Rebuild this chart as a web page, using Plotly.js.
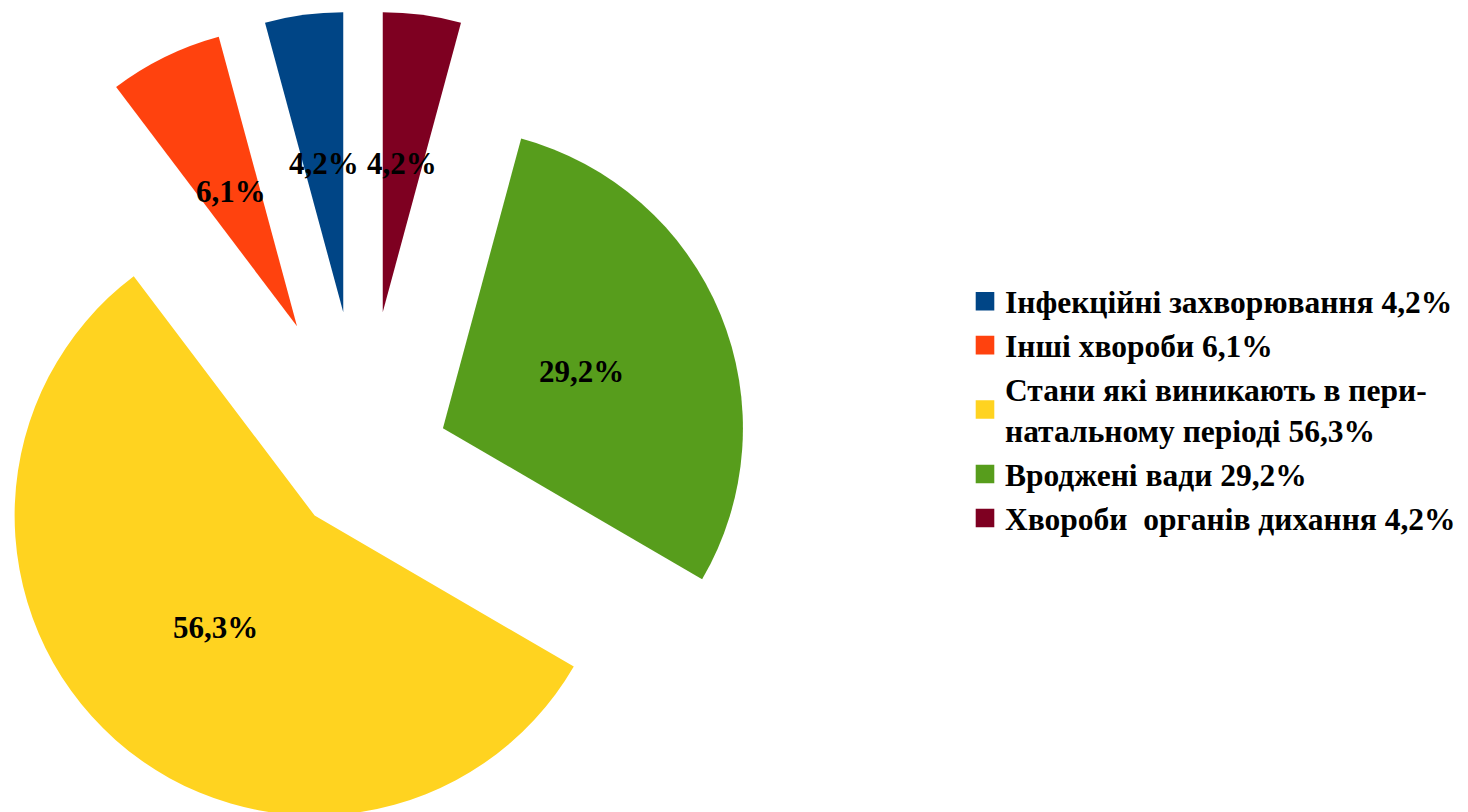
<!DOCTYPE html>
<html><head><meta charset="utf-8">
<script src="https://cdn.plot.ly/plotly-3.0.1.min.js"></script>
<style>
html,body{margin:0;padding:0;overflow:hidden;background:#fff;width:1468px;height:812px;position:relative;}
#chart{position:absolute;left:-87.5px;top:10.5px;width:1556px;height:900px;}
.legendpie{transform:translate(20px,0px) scale(1.55);}
</style></head><body><div id="chart"></div>
<script>
const categories = ["Інфекційні захворювання", "Інші хвороби", "Стани які виникають в пери-<br>натальному періоді", "Вроджені вади", "Хвороби\u00a0 органів дихання"];
const values = [4.2, 6.1, 56.3, 29.2, 4.2];
const colors = ["#004586", "#ff420e", "#ffd320", "#579d1c", "#7e0021"];
const pulls = [0.5, 0.5, 0.243, 0.288, 0.5];

const W = 1556, H = 900;
const domX = [0, 900 / W], domY = [0, 1];
const FONT = '"Liberation Serif", "Times New Roman", serif';
const fmt = v => v.toFixed(1).replace('.', ',') + '%';
const legendLabels = categories.map((c, i) => '<b>' + c.replace('<br>', '</b><br><b>') + ' ' + fmt(values[i]) + '</b>');

// label positions computed from the data (counterclockwise from 12 o'clock)
const total = values.reduce((a, b) => a + b, 0);
const maxPull = Math.max(...pulls);
const boxW = W * (domX[1] - domX[0]), boxH = H * (domY[1] - domY[0]);
const r = Math.min(boxW, boxH) / 2 / (1 + maxPull);
const cx = W * (domX[0] + domX[1]) / 2;
const cy = H * (1 - domY[0]) - boxH / 2;
let cum = 0;
const annotations = values.map((v, i) => {
  const mid = -2 * Math.PI * (cum + v / 2) / total;
  cum += v;
  const d = (pulls[i] + 0.5) * r;
  const px = cx + d * Math.sin(mid);
  const py = cy - d * Math.cos(mid);
  return {
    x: px / W, y: 1 - py / H, xref: 'paper', yref: 'paper',
    text: '<b>' + fmt(v) + '</b>', showarrow: false, xanchor: 'center', yanchor: 'middle',
    font: {family: FONT, size: 31, weight: 'bold', color: '#000'}
  };
});

const trace = {
  type: 'pie',
  labels: legendLabels,
  values: values,
  sort: false,
  direction: 'counterclockwise',
  // first slice ends at 12 o'clock (Plotly places the first slice clockwise of the rotation angle)
  rotation: -360 * values[0] / total,
  pull: pulls,
  marker: {colors: colors, line: {width: 0}},
  textinfo: 'none',
  hoverinfo: 'skip',
  domain: {x: domX, y: domY}
};

const layout = {
  width: W, height: H,
  margin: {l: 0, r: 0, t: 0, b: 0},
  paper_bgcolor: '#fff',
  font: {family: FONT, size: 31, color: '#000'},
  showlegend: true,
  legend: {
    x: 1052 / W, xanchor: 'left', y: 0.557, yanchor: 'middle',
    font: {family: FONT, size: 31.5, weight: 'bold', color: '#000'},
    bgcolor: 'rgba(0,0,0,0)'
  },
  annotations: annotations
};

Plotly.newPlot('chart', [trace], layout, {displayModeBar: false, staticPlot: true});
</script></body></html>
